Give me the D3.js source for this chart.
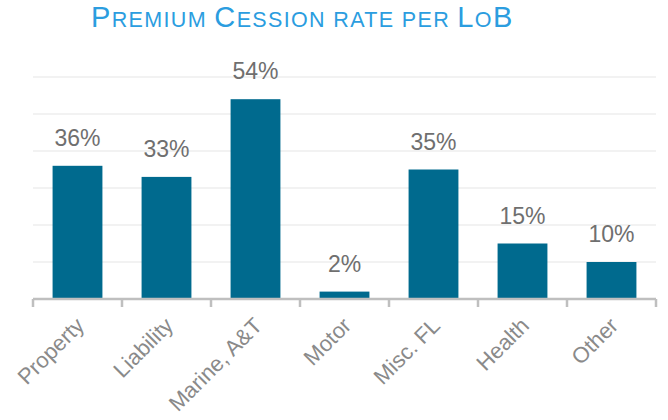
<!DOCTYPE html>
<html>
<head>
<meta charset="utf-8">
<script src="https://cdn.jsdelivr.net/npm/d3@7"></script>
<style>
  body { margin: 0; background: #fff; }
  svg text { font-family: "Liberation Sans", Arial, sans-serif; }
</style>
</head>
<body>
<div class="chart"></div>
<script>
// data
const categories = ["Property", "Liability", "Marine, A&T", "Motor", "Misc. FL", "Health", "Other"]
const values = [36, 33, 54, 2, 35, 15, 10]
const gridTicks = [10, 20, 30, 40, 50, 60]
// title in small caps: [text, big?]
const titleParts = [["P", true], ["REMIUM ", false], ["C", true], ["ESSION RATE PER ", false], ["L", true], ["O", false], ["B", true]]

const width = 668, height = 420
const margin = {top: 77, right: 12, bottom: 121, left: 33}
const innerW = width - margin.left - margin.right
const innerH = height - margin.top - margin.bottom

const svg = d3.select(".chart")
    .append("svg")
    .attr("width", width)
    .attr("height", height)

// title
const title = svg.append("text")
    .attr("x", 91)
    .attr("y", 27)
    .attr("fill", "#2b9ddf")
    .style("letter-spacing", "1.35px")
title.selectAll("tspan")
    .data(titleParts)
    .enter()
    .append("tspan")
    .style("font-size", d => d[1] ? "29px" : "21.5px")
    .text(d => d[0])

const g = svg.append("g")
    .attr("transform", "translate(" + margin.left + "," + margin.top + ")")

let x = d3.scaleBand()
    .domain(categories)
    .range([0, innerW])
    .paddingInner(0.44)
    .paddingOuter(0.22)

let y = d3.scaleLinear()
    .domain([0, 60])
    .range([innerH, 0])

// gridlines
g.append("g")
    .selectAll("line")
    .data(gridTicks)
    .enter()
    .append("line")
    .attr("x1", 0)
    .attr("x2", innerW)
    .attr("y1", d => y(d))
    .attr("y2", d => y(d))
    .attr("stroke", "#eeeeee")
    .attr("stroke-width", 1.5)

// bars
g.append("g")
    .selectAll("rect")
    .data(values)
    .enter()
    .append("rect")
    .attr("x", (d, i) => x(categories[i]))
    .attr("y", d => y(d))
    .attr("width", x.bandwidth())
    .attr("height", d => innerH - y(d))
    .attr("fill", "#006a8e")

// value labels
g.append("g")
    .selectAll("text")
    .data(values)
    .enter()
    .append("text")
    .attr("x", (d, i) => x(categories[i]) + x.bandwidth() / 2)
    .attr("y", d => y(d) - 20)
    .attr("text-anchor", "middle")
    .attr("fill", "#6f6f6f")
    .style("font-size", "23px")
    .text(d => d + "%")

// x axis with ticks at band edges
const step = innerW / categories.length
const edges = d3.range(categories.length + 1).map(i => i * step)
const axis = g.append("g").attr("transform", "translate(0," + innerH + ")")
axis.append("line")
    .attr("x1", 0).attr("x2", innerW)
    .attr("stroke", "#bfbfbf")
    .attr("stroke-width", 2.5)
axis.selectAll(".tick")
    .data(edges)
    .enter()
    .append("line")
    .attr("class", "tick")
    .attr("x1", d => d).attr("x2", d => d)
    .attr("y1", 0).attr("y2", 8)
    .attr("stroke", "#bfbfbf")
    .attr("stroke-width", 2.5)

axis.selectAll(".lbl")
    .data(categories)
    .enter()
    .append("text")
    .attr("class", "lbl")
    .attr("text-anchor", "end")
    .attr("transform", d => "translate(" + (x(d) + x.bandwidth() / 2 + 8) + ",28) rotate(-45)")
    .attr("fill", "#8a8a8a")
    .style("font-size", "22px")
    .text(d => d)
</script>
</body>
</html>
